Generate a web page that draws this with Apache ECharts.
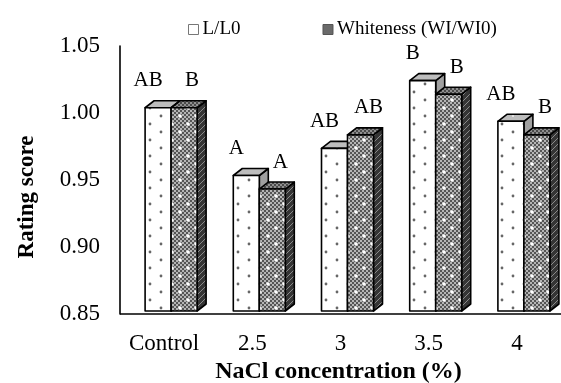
<!DOCTYPE html>
<html><head><meta charset="utf-8">
<script src="https://cdn.jsdelivr.net/npm/echarts@6/dist/echarts.min.js"></script>
<style>html,body{margin:0;padding:0;background:#fff}#c{width:561px;height:383px}</style>
</head><body><div id="c"></div>
<script>
const categories = ['Control', '2.5', '3', '3.5', '4'];
const lValues = [1.00, 0.95, 0.97, 1.02, 0.99];
const wValues = [1.00, 0.94, 0.98, 1.01, 0.98];
const lLetters = ['AB', 'A', 'AB', 'B', 'AB'];
const wLetters = ['B', 'A', 'AB', 'B', 'B'];
const seriesNames = ['L/L0', 'Whiteness (WI/WI0)'];
const yMin = 0.85, yMax = 1.05, yStep = 0.05;

const FONT = '"Liberation Serif", "Times New Roman", serif';

function makePattern(w, h, draw) {
  const c = document.createElement('canvas');
  c.width = w; c.height = h;
  const ctx = c.getContext('2d');
  draw(ctx, w, h);
  return { image: c, repeat: 'repeat' };
}
function dot(ctx, x, y, r, col) { ctx.fillStyle = col; ctx.beginPath(); ctx.arc(x, y, r, 0, Math.PI * 2); ctx.fill(); }

const dotsFront = makePattern(22, 16, (ctx, w, h) => {
  ctx.fillStyle = '#fff'; ctx.fillRect(0, 0, w, h);
  dot(ctx, 7, 4, 1.4, '#666'); dot(ctx, 18, 12, 1.4, '#666');
});
const dotsTop = makePattern(22, 16, (ctx, w, h) => {
  ctx.fillStyle = '#bdbdbd'; ctx.fillRect(0, 0, w, h);
  dot(ctx, 7, 4, 1, '#eee');
});
const dotsSide = makePattern(22, 16, (ctx, w, h) => {
  ctx.fillStyle = '#a0a0a0'; ctx.fillRect(0, 0, w, h);
});
const crossFront = makePattern(16, 16, (ctx, w, h) => {
  for (let y = 0; y < h; y += 2) for (let x = 0; x < w; x += 2) {
    ctx.fillStyle = ((x + y) / 2) % 2 ? '#555' : '#b5b5b5';
    ctx.fillRect(x, y, 2, 2);
  }
  dot(ctx, 4, 4, 1.8, '#fff'); dot(ctx, 12, 12, 1.8, '#fff');
});
const crossTop = makePattern(8, 8, (ctx, w, h) => {
  for (let y = 0; y < h; y += 2) for (let x = 0; x < w; x += 2) {
    ctx.fillStyle = ((x + y) / 2) % 2 ? '#4a4a4a' : '#8f8f8f';
    ctx.fillRect(x, y, 2, 2);
  }
});
const crossSide = makePattern(6, 6, (ctx, w, h) => {
  ctx.fillStyle = '#353535'; ctx.fillRect(0, 0, w, h);
  ctx.strokeStyle = '#8a8a8a'; ctx.lineWidth = 1;
  ctx.beginPath(); ctx.moveTo(0, 6); ctx.lineTo(6, 0); ctx.stroke();
});

const BW = 26, DX = 9, DY = 7;
function makeRender(which, letters, fills) {
  return function (params, api) {
    const idx = api.value(0), val = api.value(1);
    const top = api.coord([idx, val]);
    const bot = api.coord([idx, yMin]);
    const cx = top[0];
    const x0 = which === 0 ? cx - BW : cx;
    const x1 = x0 + BW;
    const yt = top[1], yb = bot[1];
    const stroke = { stroke: '#000', lineWidth: 1.6, lineJoin: 'round' };
    const labelX = which === 0 ? (x0 + x1) / 2 - 10 : (x0 + x1) / 2 + 8;
    return {
      type: 'group',
      children: [
        { type: 'polygon', shape: { points: [[x1, yt], [x1 + DX, yt - DY], [x1 + DX, yb - DY], [x1, yb]] },
          style: Object.assign({ fill: fills.side }, stroke) },
        { type: 'polygon', shape: { points: [[x0, yt], [x1, yt], [x1 + DX, yt - DY], [x0 + DX, yt - DY]] },
          style: Object.assign({ fill: fills.top }, stroke) },
        { type: 'rect', shape: { x: x0, y: yt, width: BW, height: yb - yt },
          style: Object.assign({ fill: fills.front }, stroke) },
        { type: 'text', style: { text: letters[idx], x: labelX, y: yt - 27, align: 'center', verticalAlign: 'middle',
          font: '21px ' + FONT, fill: '#000' } }
      ]
    };
  };
}

const chart = echarts.init(document.getElementById('c'), null, { renderer: 'canvas' });
chart.setOption({
  animation: false,
  backgroundColor: '#fff',
  grid: [
    { left: 120, right: 0, top: 46, bottom: 69, outerBoundsMode: 'none', containLabel: false },
    { left: 127, width: 441, top: 40, bottom: 72, outerBoundsMode: 'none', containLabel: false }
  ],
  legend: {
    top: 15, left: 183, itemWidth: 10, itemHeight: 10, itemGap: 82,
    textStyle: { fontFamily: FONT, fontSize: 19, color: '#000', padding: [0, 0, 0, -1] },
    data: [
      { name: seriesNames[0], icon: 'rect', itemStyle: { color: '#fff', borderColor: '#777', borderWidth: 1 } },
      { name: seriesNames[1], icon: 'rect', itemStyle: { color: '#6a6a6a', borderColor: '#555', borderWidth: 1 } }
    ]
  },
  xAxis: [
    { type: 'category', gridIndex: 0, show: false, data: categories },
    { type: 'category', gridIndex: 1, data: categories,
      axisLine: { show: false }, axisTick: { show: false },
      axisLabel: { fontFamily: FONT, fontSize: 23, color: '#000', margin: 21, interval: 0, hideOverlap: false,
        padding: [0, 14, 0, 0] },
      name: 'NaCl concentration (%)', nameLocation: 'middle', nameGap: 37,
      nameTextStyle: { fontFamily: FONT, fontSize: 24, fontWeight: 'bold', color: '#000', padding: [0, 18, 0, 0] } }
  ],
  yAxis: [
    { type: 'value', gridIndex: 0, min: yMin, max: yMax, interval: yStep,
      axisLine: { show: true, lineStyle: { color: '#000', width: 1.6 } }, axisTick: { show: false },
      splitLine: { show: false },
      axisLabel: { fontFamily: FONT, fontSize: 23, color: '#000', margin: 20, formatter: v => v.toFixed(2) } },
    { type: 'value', gridIndex: 1, min: yMin, max: yMax, show: false, splitLine: { show: false } }
  ],
  graphic: [
    { type: 'text', rotation: Math.PI / 2, x: 27, y: 197,
      style: { text: 'Rating score', font: 'bold 23px ' + FONT, fill: '#000', align: 'center', verticalAlign: 'middle' } },
    { type: 'line', shape: { x1: 120, y1: 314, x2: 561, y2: 314 }, style: { stroke: '#000', lineWidth: 1.6 } }
  ],
  series: [
    { name: seriesNames[0], type: 'custom', xAxisIndex: 1, yAxisIndex: 1,
      itemStyle: { color: '#fff' },
      renderItem: makeRender(0, lLetters, { front: dotsFront, top: dotsTop, side: dotsSide }),
      data: lValues.map((v, i) => [i, v]) },
    { name: seriesNames[1], type: 'custom', xAxisIndex: 1, yAxisIndex: 1,
      itemStyle: { color: '#6a6a6a' },
      renderItem: makeRender(1, wLetters, { front: crossFront, top: crossTop, side: crossSide }),
      data: wValues.map((v, i) => [i, v]) }
  ]
});
</script></body></html>
